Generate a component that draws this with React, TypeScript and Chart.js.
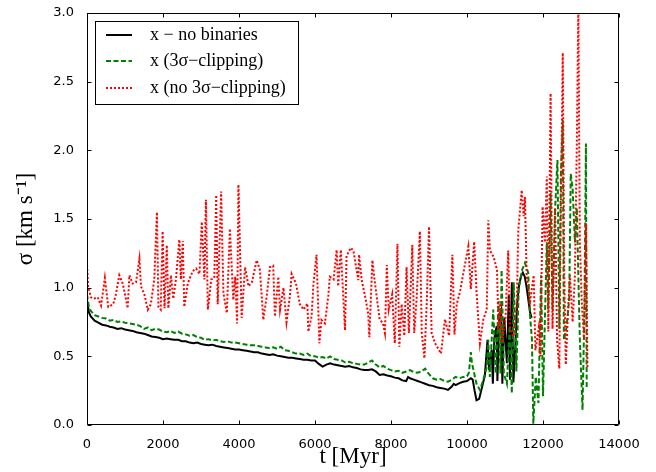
import React, { useEffect, useRef } from "react";
import { Chart, registerables } from "chart.js";

Chart.register(...registerables);

// ---------- data ----------
const legendLabels = ["x \u2212 no binaries", "x (3\u03c3\u2212clipping)", "x (no 3\u03c3\u2212clipping)"];
const xTickValues = [0, 2000, 4000, 6000, 8000, 10000, 12000, 14000];
const yTickValues = [0.0, 0.5, 1.0, 1.5, 2.0, 2.5, 3.0];

const tBlack = [
  0, 50, 100, 200, 300, 400, 500, 600, 700, 800,
  900, 1000, 1100, 1200, 1300, 1400, 1500, 1600, 1700, 1800,
  1900, 2000, 2100, 2200, 2300, 2400, 2500, 2600, 2700, 2800,
  2900, 3000, 3100, 3200, 3300, 3400, 3500, 3600, 3700, 3800,
  3900, 4000, 4100, 4200, 4300, 4400, 4500, 4600, 4700, 4800,
  4900, 5000, 5100, 5200, 5300, 5400, 5500, 5600, 5700, 5800,
  5900, 6000, 6100, 6200, 6300, 6400, 6500, 6600, 6700, 6800,
  6900, 7000, 7100, 7200, 7300, 7400, 7500, 7600, 7700, 7800,
  7900, 8000, 8100, 8200, 8300, 8400, 8450, 8500, 8600, 8700,
  8800, 8900, 9000, 9100, 9200, 9300, 9400, 9500, 9600, 9650,
  9700, 9800, 9900, 10000, 10100, 10150, 10200, 10250, 10320, 10400,
  10470, 10540, 10580, 10650, 10680, 10720, 10780, 10800, 10850, 10900,
  10930, 10980, 11050, 11100, 11130, 11180, 11220, 11260, 11320, 11370,
  11420, 11470, 11520, 11570, 11620, 11660, 11700,
];
const sigmaBlack = [
  0.91, 0.82, 0.79, 0.76, 0.745, 0.73, 0.725, 0.715, 0.71, 0.70,
  0.705, 0.695, 0.69, 0.685, 0.675, 0.67, 0.665, 0.655, 0.645, 0.64,
  0.635, 0.625, 0.63, 0.625, 0.62, 0.62, 0.61, 0.61, 0.60, 0.595,
  0.60, 0.59, 0.585, 0.58, 0.585, 0.575, 0.57, 0.565, 0.56, 0.555,
  0.55, 0.55, 0.545, 0.54, 0.535, 0.53, 0.53, 0.52, 0.515, 0.51,
  0.515, 0.505, 0.50, 0.495, 0.49, 0.49, 0.485, 0.48, 0.475, 0.475,
  0.47, 0.47, 0.445, 0.425, 0.44, 0.45, 0.44, 0.435, 0.43, 0.425,
  0.43, 0.42, 0.415, 0.405, 0.40, 0.40, 0.405, 0.39, 0.365, 0.37,
  0.36, 0.355, 0.345, 0.34, 0.325, 0.32, 0.35, 0.34, 0.33, 0.32,
  0.31, 0.30, 0.29, 0.285, 0.275, 0.27, 0.265, 0.255, 0.28, 0.30,
  0.29, 0.305, 0.315, 0.32, 0.34, 0.33, 0.25, 0.18, 0.19, 0.28,
  0.36, 0.62, 0.40, 0.55, 0.30, 0.63, 0.72, 0.32, 0.80, 0.84,
  0.30, 0.78, 0.45, 0.95, 0.33, 1.04, 0.31, 0.50, 0.88, 1.02,
  1.08, 1.11, 1.08, 1.00, 0.90, 0.82, 0.78,
];

const tGreen = [
  0, 50, 100, 200, 300, 400, 500, 600, 700, 800,
  900, 1000, 1100, 1200, 1300, 1400, 1500, 1600, 1700, 1800,
  1900, 2000, 2100, 2200, 2300, 2400, 2500, 2600, 2700, 2800,
  2900, 3000, 3100, 3200, 3300, 3400, 3500, 3600, 3700, 3800,
  3900, 4000, 4100, 4200, 4300, 4400, 4500, 4600, 4700, 4800,
  4900, 5000, 5100, 5200, 5300, 5400, 5500, 5600, 5700, 5800,
  5900, 6000, 6100, 6200, 6300, 6400, 6500, 6600, 6700, 6800,
  6900, 7000, 7100, 7200, 7300, 7400, 7500, 7600, 7700, 7800,
  7900, 8000, 8100, 8200, 8300, 8400, 8500, 8600, 8700, 8800,
  8900, 9000, 9100, 9200, 9300, 9400, 9500, 9600, 9700, 9800,
  9900, 10000, 10050, 10100, 10130, 10170, 10250, 10340, 10430, 10520,
  10560, 10600, 10690, 10760, 10830, 10880, 10910, 10970, 11050, 11120,
  11180, 11230, 11300, 11360, 11450, 11525, 11610, 11660, 11710, 11745,
  11810, 11880, 11950, 12000, 12060, 12100, 12140, 12200, 12250, 12320,
  12380, 12430, 12470, 12520, 12550, 12620, 12690, 12730, 12780, 12840,
  12890, 12930, 12970, 13040, 13090, 13130, 13150,
];
const sigmaGreen = [
  0.95, 0.86, 0.83, 0.80, 0.79, 0.78, 0.775, 0.76, 0.765, 0.75,
  0.755, 0.745, 0.74, 0.735, 0.73, 0.72, 0.70, 0.71, 0.69, 0.70,
  0.695, 0.68, 0.675, 0.685, 0.67, 0.68, 0.665, 0.66, 0.65, 0.655,
  0.64, 0.635, 0.62, 0.625, 0.615, 0.62, 0.61, 0.605, 0.61, 0.60,
  0.60, 0.595, 0.59, 0.585, 0.58, 0.58, 0.575, 0.57, 0.565, 0.56,
  0.565, 0.555, 0.57, 0.545, 0.54, 0.53, 0.52, 0.52, 0.51, 0.52,
  0.50, 0.50, 0.49, 0.495, 0.485, 0.50, 0.48, 0.475, 0.47, 0.455,
  0.46, 0.45, 0.445, 0.44, 0.44, 0.455, 0.47, 0.44, 0.42, 0.43,
  0.41, 0.40, 0.39, 0.395, 0.38, 0.39, 0.40, 0.385, 0.38, 0.39,
  0.41, 0.37, 0.34, 0.33, 0.335, 0.32, 0.315, 0.33, 0.35, 0.34,
  0.35, 0.355, 0.38, 0.53, 0.45, 0.40, 0.30, 0.255, 0.33, 0.42,
  0.62, 0.35, 0.84, 0.375, 0.90, 0.375, 1.13, 0.375, 0.30, 0.72,
  0.23, 1.04, 0.39, 0.99, 1.13, 1.18, 1.11, 0.79, 0.62, 0.01,
  0.35, 0.16, 1.09, 0.21, 0.88, 1.33, 0.84, 1.69, 0.84, 1.58,
  1.93, 0.70, 1.81, 2.22, 0.62, 0.71, 0.92, 1.83, 1.72, 1.33,
  1.58, 1.09, 0.62, 0.11, 0.84, 2.05, 0.26,
];

const tRed = [
  0, 30, 100, 180, 280, 370, 470, 560, 690, 760,
  850, 940, 1030, 1070, 1115, 1200, 1290, 1380, 1420, 1510,
  1600, 1680, 1770, 1840, 1880, 1940, 1990, 2040, 2100, 2140,
  2210, 2270, 2340, 2430, 2470, 2520, 2560, 2650, 2780, 2870,
  2960, 3020, 3090, 3130, 3180, 3270, 3350, 3400, 3440, 3530,
  3590, 3680, 3760, 3850, 3900, 3950, 3985, 4070, 4160, 4250,
  4340, 4465, 4550, 4640, 4730, 4815, 4900, 4945, 5035, 5080,
  5170, 5250, 5340, 5385, 5500, 5600, 5700, 5800, 5825, 5910,
  5960, 6040, 6115, 6170, 6260, 6350, 6390, 6490, 6570, 6610,
  6680, 6790, 6830, 6940, 7010, 7140, 7160, 7230, 7320, 7400,
  7430, 7510, 7570, 7700, 7790, 7840, 7890, 7940, 8030, 8100,
  8170, 8220, 8280, 8350, 8410, 8470, 8560, 8610, 8670, 8760,
  8810, 8880, 8940, 9000, 9070, 9160, 9315, 9420, 9530, 9615,
  9670, 9730, 9815, 9900, 10035, 10100, 10190, 10250, 10340, 10430,
  10520, 10560, 10605, 10700, 10790, 10830, 10880, 10920, 11010, 11085,
  11130, 11220, 11310, 11350, 11440, 11490, 11525, 11570, 11660, 11755,
  11800, 11890, 11930, 11990, 12050, 12100, 12140, 12200, 12250, 12320,
  12370, 12430, 12460, 12520, 12560, 12600, 12660, 12710, 12780, 12840,
  12890, 12930, 12970, 13020, 13080, 13130, 13170,
];
const sigmaRed = [
  1.165, 1.01, 0.93, 0.92, 0.93, 0.87, 1.07, 0.86, 0.88, 0.95,
  1.09, 1.03, 0.91, 0.85, 1.09, 1.03, 1.04, 1.21, 1.01, 0.95,
  0.84, 0.88, 1.06, 1.55, 0.86, 0.84, 1.41, 0.85, 1.31, 0.85,
  1.09, 0.92, 1.06, 1.35, 1.06, 1.34, 0.86, 1.03, 1.12, 1.14,
  1.10, 1.48, 1.06, 1.64, 0.84, 1.06, 1.07, 1.675, 0.88, 1.70,
  0.96, 0.815, 1.43, 0.91, 1.08, 0.74, 1.75, 0.78, 1.15, 1.01,
  1.04, 1.20, 1.13, 0.765, 0.94, 1.15, 1.16, 0.79, 1.08, 0.84,
  1.00, 0.75, 0.94, 1.10, 1.03, 0.88, 0.84, 0.885, 0.68, 0.79,
  1.03, 1.24, 0.595, 0.765, 0.74, 0.94, 1.08, 1.06, 1.275, 1.01,
  1.275, 0.69, 1.23, 1.29, 1.27, 1.055, 1.24, 1.05, 0.935, 0.81,
  0.64, 1.20, 1.05, 0.77, 0.74, 0.67, 1.165, 0.84, 0.95, 0.595,
  1.32, 0.57, 0.88, 0.65, 1.15, 0.67, 1.31, 0.67, 0.90, 1.41,
  0.67, 0.485, 0.88, 1.445, 0.67, 0.595, 0.52, 0.77, 0.65, 1.24,
  0.66, 0.88, 0.97, 1.10, 1.30, 0.99, 1.335, 0.97, 0.595, 0.77,
  0.84, 1.49, 1.27, 1.225, 1.13, 0.69, 0.90, 0.595, 0.76, 1.27,
  0.71, 0.64, 0.88, 1.42, 1.71, 1.52, 1.66, 1.09, 0.90, 1.09,
  0.545, 0.71, 0.50, 1.59, 1.33, 1.81, 0.68, 2.415, 0.70, 1.58,
  0.62, 0.41, 1.33, 2.71, 1.09, 0.44, 0.84, 1.09, 0.75, 1.09,
  2.05, 3.05, 1.33, 0.90, 0.62, 1.47, 0.41,
];

const toPoints = (ts: number[], vs: number[]) => ts.map((t, i) => ({ x: t, y: vs[i] }));

// ---------- plugins ----------
const framePlugin = {
  id: "frameTicks",
  afterDraw(chart: any) {
    const { ctx, chartArea: a, scales } = chart;
    ctx.save();
    ctx.strokeStyle = "#000";
    ctx.lineWidth = 1;
    ctx.setLineDash([]);
    const L = Math.round(a.left) + 0.5;
    const R = Math.round(a.right) - 0.5;
    const T = Math.round(a.top) + 0.5;
    const B = Math.round(a.bottom) - 0.5;
    ctx.beginPath();
    ctx.rect(L, T, R - L, B - T);
    ctx.stroke();
    const tl = 4;
    ctx.beginPath();
    for (const v of xTickValues) {
      const p = Math.round(scales.x.getPixelForValue(v)) + 0.5;
      ctx.moveTo(p, B);
      ctx.lineTo(p, B - tl);
      ctx.moveTo(p, T);
      ctx.lineTo(p, T + tl);
    }
    for (const v of yTickValues) {
      const p = Math.round(scales.y.getPixelForValue(v)) + 0.5;
      ctx.moveTo(L, p);
      ctx.lineTo(L + tl, p);
      ctx.moveTo(R, p);
      ctx.lineTo(R - tl, p);
    }
    ctx.stroke();
    ctx.restore();
  },
};

const legendPlugin = {
  id: "boxLegend",
  afterDraw(chart: any) {
    const { ctx, chartArea: a } = chart;
    const left = Math.round(a.left) + 8;
    const top = Math.round(a.top) + 8;
    const w = 203;
    const h = 83;
    ctx.save();
    ctx.fillStyle = "#fff";
    ctx.fillRect(left, top, w, h);
    ctx.strokeStyle = "#000";
    ctx.lineWidth = 1;
    ctx.setLineDash([]);
    ctx.strokeRect(left + 0.5, top + 0.5, w, h);
    const rows = [14, 40, 67];
    chart.data.datasets.forEach((ds: any, i: number) => {
      const y = top + rows[i];
      ctx.beginPath();
      ctx.strokeStyle = ds.borderColor;
      ctx.lineWidth = ds.borderWidth;
      ctx.setLineDash(ds.borderDash || []);
      ctx.moveTo(left + 11, y);
      ctx.lineTo(left + 37, y);
      ctx.stroke();
      ctx.setLineDash([]);
      ctx.fillStyle = "#000";
      ctx.font = "18px 'Liberation Serif'";
      ctx.textAlign = "left";
      ctx.textBaseline = "middle";
      ctx.fillText(ds.label, left + 55, y);
    });
    ctx.restore();
  },
};

export default function App() {
  const ref = useRef<HTMLCanvasElement>(null);
  useEffect(() => {
    const canvas = ref.current;
    if (!canvas) return;
    const chart = new Chart(canvas, {
      type: "line",
      data: {
        datasets: [
          {
            label: legendLabels[0],
            data: toPoints(tBlack, sigmaBlack),
            borderColor: "#000000",
            borderWidth: 2,
            pointRadius: 0,
            tension: 0,
            order: 3,
          },
          {
            label: legendLabels[1],
            data: toPoints(tGreen, sigmaGreen),
            borderColor: "#008000",
            borderWidth: 2,
            borderDash: [5, 2.5],
            pointRadius: 0,
            tension: 0,
            order: 2,
          },
          {
            label: legendLabels[2],
            data: toPoints(tRed, sigmaRed),
            borderColor: "#ff0000",
            borderWidth: 2,
            borderDash: [2, 2],
            pointRadius: 0,
            tension: 0,
            order: 1,
          },
        ],
      },
      options: {
        responsive: false,
        animation: false,
        devicePixelRatio: 1,
        layout: { padding: { left: 0, top: 13, right: 37, bottom: 0 } },
        plugins: { legend: { display: false }, tooltip: { enabled: false } },
        scales: {
          x: {
            type: "linear",
            min: 0,
            max: 14000,
            afterFit: (s: any) => {
              s.height = 47;
            },
            afterBuildTicks: (s: any) => {
              s.ticks = xTickValues.map((v) => ({ value: v }));
            },
            grid: { display: false },
            border: { display: false },
            ticks: {
              color: "#000",
              padding: 4,
              maxRotation: 0,
              font: { family: "'DejaVu Sans'", size: 13 },
              callback: (v: any) => String(v),
            },
            title: {
              display: true,
              text: "t [Myr]",
              color: "#000",
              font: { family: "'Liberation Serif'", size: 23 },
              padding: { top: 0, bottom: 1 },
            },
          },
          y: {
            type: "linear",
            min: 0,
            max: 3,
            afterFit: (s: any) => {
              s.width = 87;
            },
            afterBuildTicks: (s: any) => {
              s.ticks = yTickValues.map((v) => ({ value: v }));
            },
            grid: { display: false },
            border: { display: false },
            ticks: {
              color: "#000",
              padding: 5,
              font: { family: "'DejaVu Sans'", size: 13 },
              callback: (v: any) => Number(v).toFixed(1),
            },
            title: {
              display: true,
              text: "\u03c3 [km s\u207b\u00b9]",
              color: "#000",
              font: { family: "'Liberation Serif'", size: 23 },
              padding: { top: 12, bottom: 0 },
            },
          },
        },
      },
      plugins: [framePlugin, legendPlugin],
    } as any);
    return () => chart.destroy();
  }, []);
  return (
    <div style={{ position: "fixed", left: 0, top: 0, width: 656, height: 472, background: "#fff" }}>
      <canvas ref={ref} width={656} height={472} style={{ display: "block" }} />
    </div>
  );
}
